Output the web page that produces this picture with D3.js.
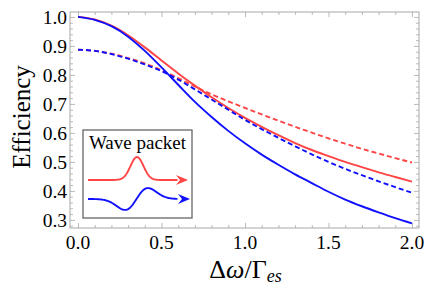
<!DOCTYPE html>
<html>
<head>
<meta charset="utf-8">
<script src="https://cdn.jsdelivr.net/npm/d3@7"></script>
<style>
  body { margin: 0; background: #fff; }
</style>
</head>
<body>
<script>
// Data
const dw = [0.0, 0.1, 0.2, 0.3, 0.4, 0.5, 0.6, 0.7, 0.8, 0.9, 1.0,
            1.1, 1.2, 1.3, 1.4, 1.5, 1.6, 1.7, 1.8, 1.9, 2.0];
const redSolid  = [1.000, 0.991, 0.970, 0.937, 0.895, 0.850, 0.805, 0.763, 0.723, 0.686, 0.652,
                   0.621, 0.592, 0.565, 0.541, 0.520, 0.500, 0.482, 0.464, 0.448, 0.432];
const redDashed = [0.887, 0.883, 0.873, 0.858, 0.840, 0.816, 0.789, 0.760, 0.733, 0.709, 0.686,
                   0.664, 0.642, 0.621, 0.601, 0.581, 0.563, 0.545, 0.529, 0.513, 0.498];
const blueSolid = [1.000, 0.990, 0.968, 0.932, 0.883, 0.826, 0.766, 0.707, 0.655, 0.607, 0.564,
                   0.525, 0.490, 0.457, 0.427, 0.397, 0.370, 0.347, 0.326, 0.306, 0.288];
const blueDashed = [0.887, 0.883, 0.872, 0.856, 0.836, 0.813, 0.784, 0.750, 0.715, 0.680, 0.645,
                    0.613, 0.583, 0.554, 0.526, 0.500, 0.476, 0.454, 0.433, 0.413, 0.394];
const xTicks = [0.0, 0.5, 1.0, 1.5, 2.0];
const yTicks = [0.3, 0.4, 0.5, 0.6, 0.7, 0.8, 0.9, 1.0];

const width = 436, height = 285;
const margin = { top: 12, right: 17, bottom: 57, left: 70 };

const red = '#ff4545', blue = '#1010ff', frameColor = '#a8a8a8';
const serif = '"Liberation Serif", "Times New Roman", "DejaVu Serif", serif';

const svg = d3.select('body')
  .append('svg')
  .attr('width', width)
  .attr('height', height)
  .attr('font-family', serif);

const x = d3.scaleLinear()
  .domain([-0.048, 2.042])
  .range([margin.left, width - margin.right]);

const y = d3.scaleLinear()
  .domain([0.272, 1.017])
  .range([height - margin.bottom, margin.top]);

// frame ticks (inside, on all four sides)
const xMinor = d3.range(0, 21).map(i => i / 10).filter(v => !xTicks.some(t => Math.abs(t - v) < 1e-9));
const yMinor = d3.range(14, 51).map(i => i / 50).filter(v => !yTicks.some(t => Math.abs(t - v) < 1e-9));

function tickAxis(axisFn, scale, vals, size) {
  return axisFn(scale).tickValues(vals).tickSizeInner(size).tickSizeOuter(0).tickFormat('');
}

const x0 = margin.left, x1 = width - margin.right;
const y0 = height - margin.bottom, y1 = margin.top;

// bottom
svg.append('g').attr('transform', `translate(0,${y0})`).call(tickAxis(d3.axisTop, x, xMinor, 3));
svg.append('g').attr('transform', `translate(0,${y0})`).call(tickAxis(d3.axisTop, x, xTicks, 5));
// top
svg.append('g').attr('transform', `translate(0,${y1})`).call(tickAxis(d3.axisBottom, x, xMinor, 3));
svg.append('g').attr('transform', `translate(0,${y1})`).call(tickAxis(d3.axisBottom, x, xTicks, 5));
// left
svg.append('g').attr('transform', `translate(${x0},0)`).call(tickAxis(d3.axisRight, y, yMinor, 3));
svg.append('g').attr('transform', `translate(${x0},0)`).call(tickAxis(d3.axisRight, y, yTicks, 5));
// right
svg.append('g').attr('transform', `translate(${x1},0)`).call(tickAxis(d3.axisLeft, y, yMinor, 3));
svg.append('g').attr('transform', `translate(${x1},0)`).call(tickAxis(d3.axisLeft, y, yTicks, 5));

svg.selectAll('.tick line').attr('stroke', frameColor).attr('stroke-width', 0.8);
svg.selectAll('.domain').remove();

svg.append('rect')
  .attr('x', x0).attr('y', y1)
  .attr('width', x1 - x0).attr('height', y0 - y1)
  .attr('fill', 'none')
  .attr('stroke', frameColor)
  .attr('stroke-width', 1);

// tick labels
svg.append('g').selectAll('text')
  .data(xTicks)
  .enter().append('text')
  .attr('font-family', serif)
  .attr('x', d => x(d))
  .attr('y', y0 + 21)
  .attr('text-anchor', 'middle')
  .attr('font-size', 19.5)
  .text(d => d3.format('.1f')(d));

svg.append('g').selectAll('text')
  .data(yTicks)
  .enter().append('text')
  .attr('font-family', serif)
  .attr('x', x0 - 3)
  .attr('y', d => y(d))
  .attr('dy', '0.34em')
  .attr('text-anchor', 'end')
  .attr('font-size', 19.5)
  .text(d => d3.format('.1f')(d));

// curves
const line = d3.line()
  .x((d, i) => x(dw[i]))
  .y(d => y(d))
  .curve(d3.curveMonotoneX);

const series = [
  { vals: redDashed, color: red, dash: '5,3' },
  { vals: redSolid, color: red, dash: null },
  { vals: blueDashed, color: blue, dash: '5,3' },
  { vals: blueSolid, color: blue, dash: null }
];

svg.append('g').selectAll('path')
  .data(series)
  .enter().append('path')
  .attr('d', d => line(d.vals))
  .attr('fill', 'none')
  .attr('stroke', d => d.color)
  .attr('stroke-width', 1.9)
  .attr('stroke-dasharray', d => d.dash);

// axis titles
const xlabel = svg.append('text')
  .attr('font-family', serif)
  .attr('x', (x0 + x1) / 2 + 1)
  .attr('y', 278)
  .attr('text-anchor', 'middle')
  .attr('font-size', 26);
xlabel.append('tspan').text('Δ');
xlabel.append('tspan').attr('font-style', 'italic').text('ω');
xlabel.append('tspan').text('/Γ');
xlabel.append('tspan').attr('font-style', 'italic').attr('font-size', 18).attr('dy', 4).text('es');

svg.append('text')
  .text('Efficiency')
  .attr('font-family', serif)
  .attr('transform', `translate(30,${(y0 + y1) / 2 - 3}) rotate(-90)`)
  .attr('text-anchor', 'middle')
  .attr('font-size', 25);

// inset legend
const lg = svg.append('g').attr('transform', `translate(83,130)`);
lg.append('rect')
  .attr('width', 109).attr('height', 88)
  .attr('fill', '#fff')
  .attr('stroke', '#666')
  .attr('stroke-width', 1.3);
lg.append('text')
  .attr('font-family', serif)
  .attr('x', 54.5).attr('y', 19)
  .attr('text-anchor', 'middle')
  .attr('font-size', 19)
  .text('Wave packet');

// small wave glyphs for the legend
const gx = d3.range(5, 95, 0.5);
const waveLine = d3.line();
const gauss = u => Math.exp(-u * u / 2);
const redWave = gx.map(t => [t, 50 - 23 * gauss((t - 54) / 6.5)]);
const blueWave = gx.map(t => [t, 69 - 18 * ((t - 53.5) / 11.5) * gauss((t - 53.5) / 11.5)]);

function arrowHead(g, tipX, tipY, color) {
  g.append('path')
    .attr('d', `M${tipX},${tipY} L${tipX - 12},${tipY - 5} L${tipX - 8},${tipY} L${tipX - 12},${tipY + 5} Z`)
    .attr('fill', color);
}

lg.append('path').attr('d', waveLine(redWave))
  .attr('fill', 'none').attr('stroke', red).attr('stroke-width', 1.9);
arrowHead(lg, 105, 50, red);
lg.append('path').attr('d', waveLine(blueWave))
  .attr('fill', 'none').attr('stroke', blue).attr('stroke-width', 1.9);
arrowHead(lg, 107, 69, blue);
</script>
</body>
</html>
